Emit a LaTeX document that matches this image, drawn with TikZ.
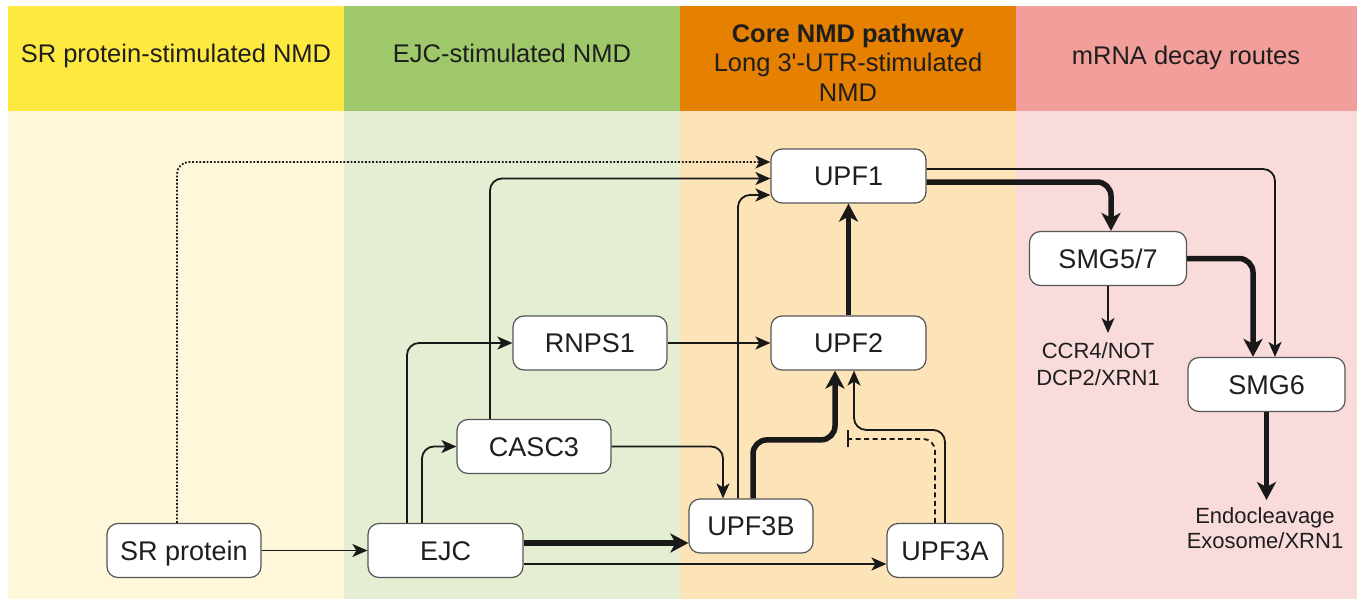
\documentclass[tikz,border=0pt]{standalone}
\usepackage{fontspec}
\setmainfont{Liberation Sans}
\usetikzlibrary{arrows.meta}
\definecolor{hY}{RGB}{254,233,65}
\definecolor{hG}{RGB}{158,200,106}
\definecolor{hO}{RGB}{230,128,0}
\definecolor{hP}{RGB}{242,158,154}
\definecolor{bY}{RGB}{254,247,217}
\definecolor{bG}{RGB}{228,238,210}
\definecolor{bO}{RGB}{253,228,184}
\definecolor{bP}{RGB}{250,219,220}
\definecolor{edgecol}{RGB}{25,25,25}
\definecolor{boxline}{RGB}{85,85,85}
\definecolor{txt}{RGB}{30,30,30}
\begin{document}
\begin{tikzpicture}[x=1pt,y=-1pt,
  box/.style={draw=boxline, line width=1.2pt, fill=white, rounded corners=11pt, minimum height=54pt, inner sep=0pt, text height=19.3pt, text depth=0pt, text=txt, font=\fontsize{27}{30}\selectfont},
  headone/.style={font=\fontsize{25.5}{29.5}\selectfont, text=txt, inner sep=0pt, text height=18.3pt, text depth=0pt},
  headmulti/.style={font=\fontsize{25.5}{29.5}\selectfont, text=txt, align=center, inner sep=0pt},
  lbl/.style={font=\fontsize{22}{27}\selectfont, text=txt, align=center, inner xsep=0pt},
  arrthin/.style={draw=edgecol, line width=1.8pt, rounded corners=12pt, -{Stealth[length=15pt,width=13pt,inset=4pt]}},
  arrthick/.style={draw=edgecol, line width=5.5pt, rounded corners=14pt, -{Stealth[length=18pt,width=19pt,inset=5pt]}},
]
\useasboundingbox (0,0) rectangle (1357,599);
\fill[white] (0,0) rectangle (1357,599);
% column backgrounds
\fill[hY] (8,6) rectangle (344,111);
\fill[hG] (344,6) rectangle (680,111);
\fill[hO] (680,6) rectangle (1016,111);
\fill[hP] (1016,6) rectangle (1357,111);
\fill[bY] (8,111) rectangle (344,599);
\fill[bG] (344,111) rectangle (680,599);
\fill[bO] (680,111) rectangle (1016,599);
\fill[bP] (1016,111) rectangle (1357,599);
% headers
\node[headone] (h1) at (176,53) {SR protein-stimulated NMD};
\node[headone] (h2) at (512,53) {EJC-stimulated NMD};
\node[headmulti] (h3) at (848,62.5) {\textbf{Core NMD pathway}\\Long 3\textquotesingle-UTR-stimulated\\NMD};
\node[headone] (h4) at (1186,55) {mRNA decay routes};
% nodes
\node[box, minimum width=154pt] (SR) at (184,550.5) {SR protein};
\node[box, minimum width=155pt] (EJC) at (445.5,550.5) {EJC};
\node[box, minimum width=154pt] (CASC3) at (534,446.5) {CASC3};
\node[box, minimum width=154pt] (RNPS1) at (590,343) {RNPS1};
\node[box, minimum width=155pt] (UPF1) at (848.5,176) {UPF1};
\node[box, minimum width=155pt] (UPF2) at (848.5,343) {UPF2};
\node[box, minimum width=124pt] (UPF3B) at (751,526) {UPF3B};
\node[box, minimum width=116pt] (UPF3A) at (945,550.5) {UPF3A};
\node[box, minimum width=157pt] (SMG57) at (1108,258.5) {SMG5/7};
\node[box, minimum width=157pt] (SMG6) at (1266.5,384.5) {SMG6};
\node[lbl, anchor=north, inner ysep=9pt] (CCR) at (1098,333) {CCR4/NOT\\DCP2/XRN1};
\node[lbl, anchor=north, inner ysep=7pt, font=\fontsize{22}{25.5}\selectfont] (ENDO) at (1265,500) {Endocleavage\\Exosome/XRN1};
% connectors
\draw[arrthin] (SR) -- (EJC);
\draw[arrthin, dash pattern=on 1.8pt off 1.8pt] ([xshift=-7pt]SR.north) |- ([yshift=14pt]UPF1.west);
\draw[arrthin] ([xshift=-38.5pt]EJC.north) |- (RNPS1.west);
\draw[arrthin] ([xshift=-23.5pt]EJC.north) |- (CASC3.west);
\draw[arrthin] ([xshift=-44pt]CASC3.north) |- ([yshift=-2.5pt]UPF1.west);
\draw[arrthin] (RNPS1) -- (UPF2);
\draw[arrthin] (CASC3.east) -| ([xshift=-28pt]UPF3B.north);
\coordinate (e1) at ([yshift=7.5pt]EJC.east);
\draw[arrthick] (e1) -- (e1 -| UPF3B.west);
\draw[arrthin] ([yshift=-13.5pt]EJC.east) -- ([yshift=-13.5pt]UPF3A.west);
\draw[arrthin] ([xshift=-13pt]UPF3B.north) |- ([yshift=-19pt]UPF1.west);
\draw[arrthick] ([xshift=2pt]UPF3B.north) -- ++(0,-58.5) -| ([xshift=-13.5pt]UPF2.south);
\draw[arrthin] (UPF3A.north) -- ++(0,-93) -| ([xshift=5.5pt]UPF2.south);
\draw[arrthin, -{Bar[width=17pt]}, dash pattern=on 5pt off 3.5pt] ([xshift=-10pt]UPF3A.north) -- ++(0,-84) -- ++(-88,0);
\draw[arrthick] (UPF2) -- (UPF1);
\draw[arrthin] ([yshift=7pt]UPF1.east) -| ([xshift=8.5pt]SMG6.north);
\draw[arrthick] ([yshift=-6pt]UPF1.east) -| ([xshift=3pt]SMG57.north);
\draw[arrthick] (SMG57.east) -| ([xshift=-13.5pt]SMG6.north);
\draw[arrthin] (SMG57.south) -- (SMG57.south |- CCR.north);
\draw[arrthick] (SMG6.south) -- (SMG6.south |- ENDO.north);
\end{tikzpicture}
\end{document}
